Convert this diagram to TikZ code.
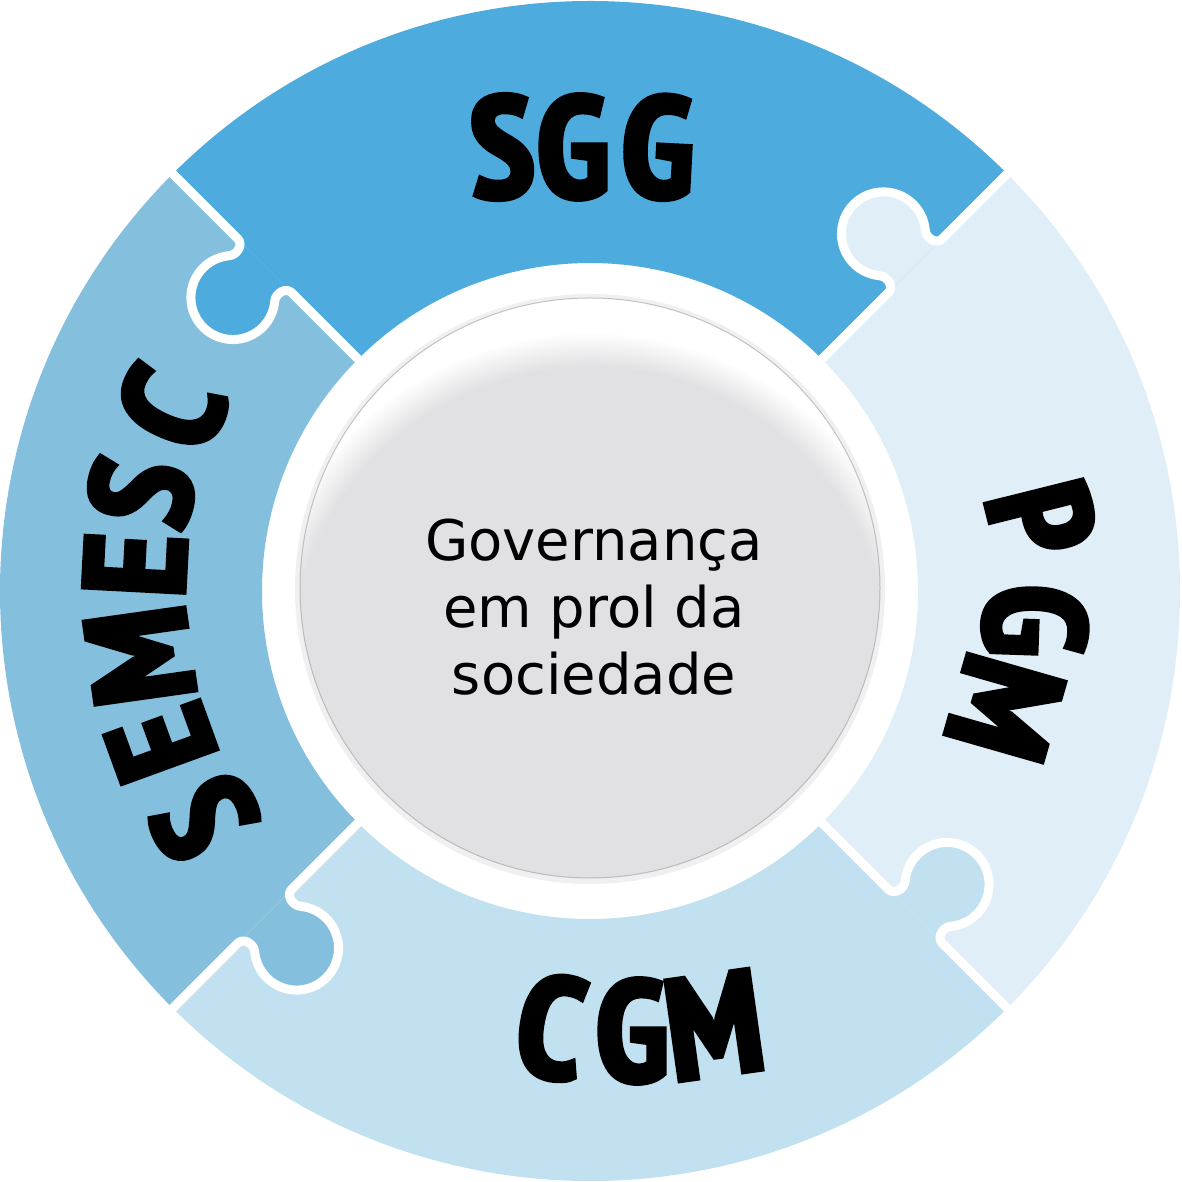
\documentclass[tikz,border=0pt]{standalone}
\usepackage{fontspec}
\setmainfont{DejaVu Sans}
\IfFontExistsTF{PT Sans Narrow Bold}
  {\newfontfamily\piecefont{PT Sans Narrow Bold}[FakeBold=4]}
  {\newfontfamily\piecefont{DejaVu Sans Bold}[FakeStretch=0.7]}

\definecolor{sggblue}{RGB}{78,171,221}
\definecolor{semescblue}{RGB}{132,192,222}
\definecolor{cgmblue}{RGB}{193,224,240}
\definecolor{pgmblue}{RGB}{224,239,247}
\definecolor{discgray}{RGB}{225,225,227}

\pgfdeclareradialshading{discglow}{\pgfpoint{0bp}{0bp}}{color(0bp)=(discgray); color(22.4bp)=(discgray); color(25bp)=(white); color(50bp)=(white)}

\begin{document}
\begin{tikzpicture}[x=1pt, y=1pt,
    gapline/.style={white, line width=9pt, line join=round},
    piecelabel/.style={inner sep=0pt, font=\piecefont\fontsize{143}{143}\selectfont},
    centertext/.style={align=center, inner sep=0pt, font=\fontsize{56}{67}\selectfont},
    knobcut/.style={insert path={.. controls (430,0) and (432.97,11.87) .. (427.83,18)
      arc[start angle=-140, end angle=-400, radius=42]
      .. controls (487.03,11.87) and (490,0) .. (498,0)}}]
  \useasboundingbox (-590,-591) rectangle (591,591);

  % ring pieces
  \foreach \a/\col in {45/sggblue,135/semescblue,225/cgmblue,315/pgmblue}
    \fill[\col] (\a:328) arc[start angle=\a, end angle=\a+90, radius=328]
      -- ({\a+90}:590) arc[start angle=\a+90, end angle=\a, radius=590] -- cycle;

  % knobs
  \foreach \a/\col in {135/sggblue,225/semescblue,315/cgmblue,45/pgmblue}
    \fill[\col, rotate=\a] (422,0) [knobcut] -- cycle;

  % cuts between pieces
  \foreach \a in {45,135,225,315}
    \draw[gapline, rotate=\a] (320,0) -- (422,0) [knobcut] -- (600,0);

  % centre disc
  \fill[black, opacity=.06] (0,2) circle (295);
  \fill[white] (0,3) circle (290);
  \begin{scope}
    \clip (0,3) circle (290);
    \shade[shading=discglow] (0,-77) circle (336);
  \end{scope}
  \draw[black!45, line width=1pt, opacity=.5] (0,3) circle (290);
  \node[centertext] (motto) at (4,-16) {Governança\\em prol da\\sociedade};

  % labels
  \foreach \ch/\px/\py/\rot [count=\i] in {S/-88/444/3, G/-17/444/0, G/68/444/-3}
    \node[piecelabel, rotate=\rot] (sgg-\i) at (\px,\py) {\ch};
  \foreach \ch/\px/\py/\rot [count=\i] in {P/452/72/-76, G/445/-30/-92, M/415/-117/-106}
    \node[piecelabel, rotate=\rot] (pgm-\i) at (\px,\py) {\ch};
  \foreach \ch/\px/\py/\rot [count=\i] in {C/-39/-436/-9, G/42/-440/0, M/124/-434/8}
    \node[piecelabel, rotate=\rot] (cgm-\i) at (\px,\py) {\ch};
  \foreach \ch/\px/\py/\rot [count=\i] in {S/-386/-227/120, E/-429/-152/110, M/-450/-65/98,
      E/-455/26/87, S/-449/99/78, C/-419/183/66}
    \node[piecelabel, rotate=\rot] (semesc-\i) at (\px,\py) {\ch};
\end{tikzpicture}
\end{document}
